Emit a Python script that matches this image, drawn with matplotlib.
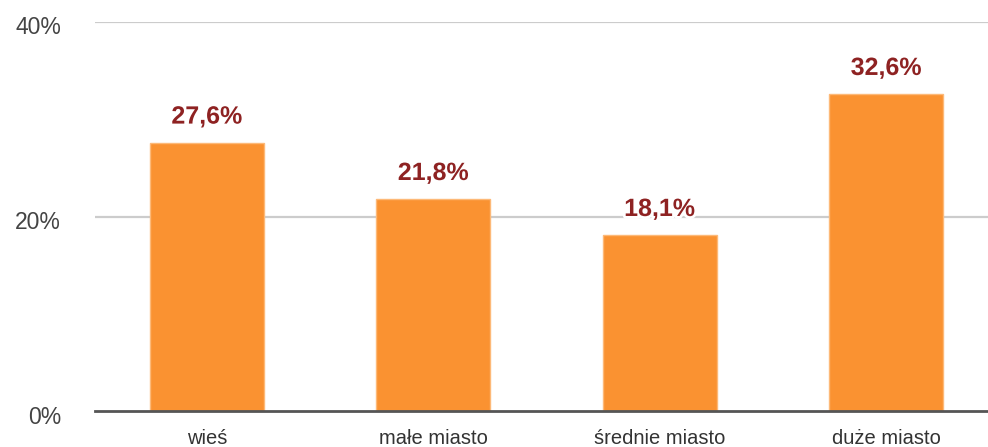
import matplotlib
matplotlib.use("Agg")
import matplotlib.pyplot as plt
import matplotlib.patheffects as pe
import matplotlib.transforms as mtransforms

plt.rcParams['font.family'] = ['Liberation Sans', 'DejaVu Sans']

categories = ["wieś", "małe miasto", "średnie miasto", "duże miasto"]
values = [27.6, 21.8, 18.1, 32.6]
value_labels = ["27,6%", "21,8%", "18,1%", "32,6%"]
yticks = [0, 20, 40]
ytick_labels = ["0%", "20%", "40%"]

fig = plt.figure(figsize=(9.88, 4.47), dpi=100)
ax = fig.add_axes([0.0962, 0.0805, 0.9038, 0.8703])
x = list(range(len(categories)))
ax.bar(x, values, width=0.503, color="#FA9231", edgecolor="#FDB978", linewidth=1.0, zorder=3)
ax.set_xlim(-0.494, 3.45)
ax.set_ylim(0, 40)
ax.set_yticks(yticks)
ax.set_yticklabels(ytick_labels, fontsize=16.5, color="#444444")
ax.tick_params(axis="y", length=0, pad=24.5)
shift = mtransforms.ScaledTranslation(0, -0.035, fig.dpi_scale_trans)
for tk in ax.yaxis.get_major_ticks():
    tk.label1.set_transform(tk.label1.get_transform() + shift)
ax.set_xticks(x)
ax.set_xticklabels(categories, fontsize=14.5, color="#333333")
ax.tick_params(axis="x", length=0, pad=13)
for yv in [20, 40]:
    ax.axhline(yv, color="#CCCCCC", linewidth=1.6, zorder=1)
for s in ["top", "right", "left"]:
    ax.spines[s].set_visible(False)
ax.spines["bottom"].set_color("#555555")
ax.spines["bottom"].set_linewidth(2)
ax.spines["bottom"].set_zorder(4)
for xi, v, lab in zip(x, values, value_labels):
    ax.annotate(lab, (xi, v), xytext=(0, 26), textcoords="offset pixels",
                ha="center", va="center", fontsize=18, fontweight="bold",
                color="#8E2222", zorder=5,
                path_effects=[pe.withStroke(linewidth=4, foreground="white")])
fig.savefig("out.png", dpi=100)
